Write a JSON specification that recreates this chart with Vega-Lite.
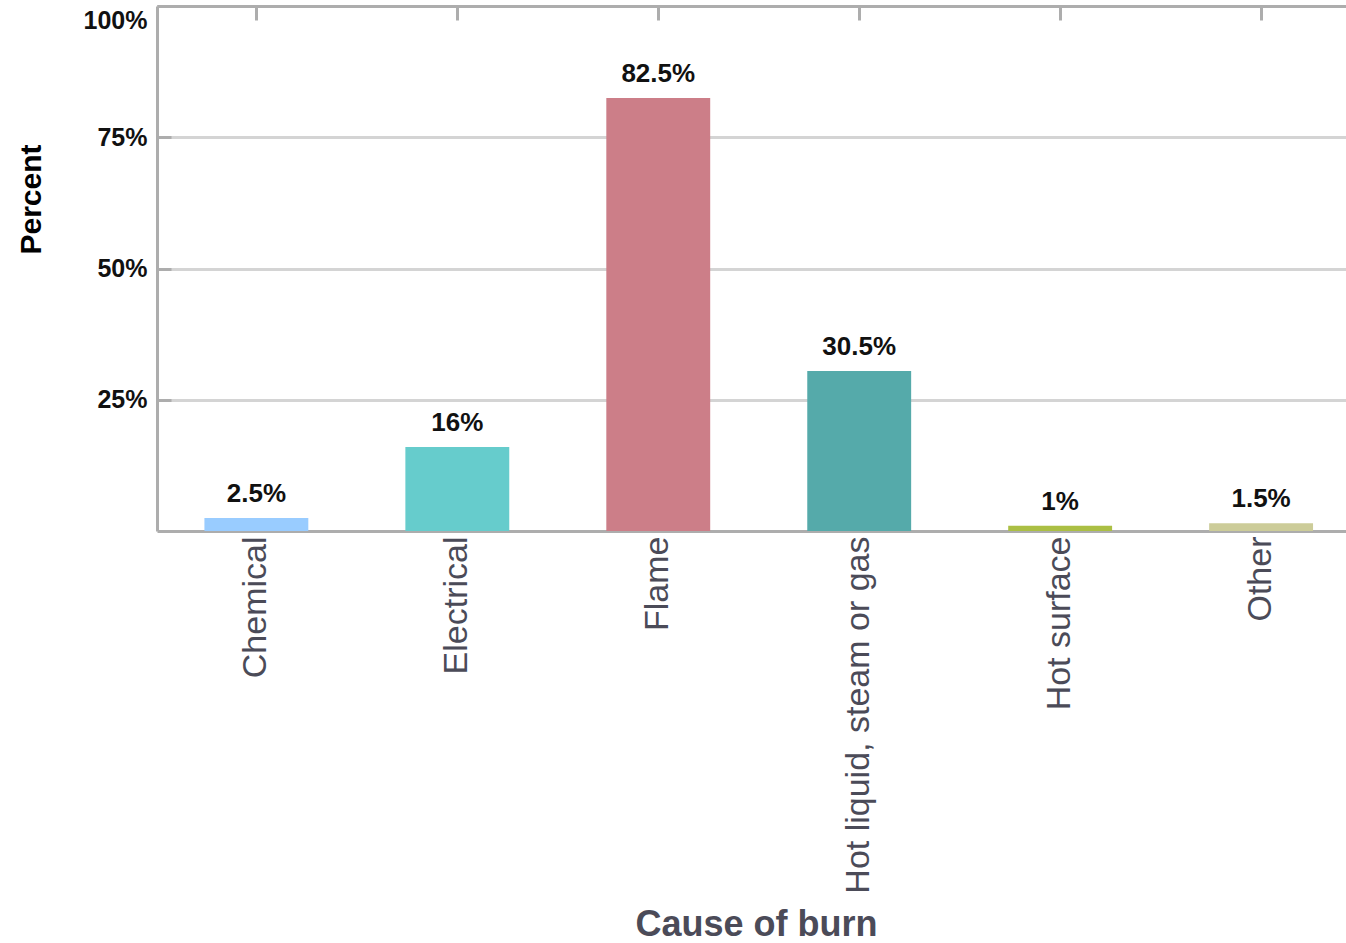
{
  "$schema": "https://vega.github.io/schema/vega-lite/v6.json",
  "width": 1189,
  "height": 525,
  "autosize": {"type": "none"},
  "padding": {"left": 157, "top": 6, "right": 0, "bottom": 412},
  "background": "white",
  "config": {"view": {"stroke": null}},
  "data": {"values": [
    {"cause": "Chemical", "pct": 2.5, "label": "2.5%"},
    {"cause": "Electrical", "pct": 16, "label": "16%"},
    {"cause": "Flame", "pct": 82.5, "label": "82.5%"},
    {"cause": "Hot liquid, steam or gas", "pct": 30.5, "label": "30.5%"},
    {"cause": "Hot surface", "pct": 1, "label": "1%"},
    {"cause": "Other", "pct": 1.5, "label": "1.5%"}
  ]},
  "resolve": {"axis": {"x": "independent"}},
  "layer": [
    {
      "mark": {"type": "bar"},
      "encoding": {
        "x": {"field": "cause", "type": "nominal", "sort": null,
          "scale": {"paddingInner": 0.483, "paddingOuter": 0.2, "align": 0.59},
          "axis": {"orient": "bottom", "title": "Cause of burn", "labelAngle": -90,
            "labelFont": "Liberation Sans", "labelFontSize": 34, "labelColor": "#4b4b58",
            "labelPadding": 5, "labelLimit": 0, "ticks": false, "domainColor": "#adadad", "domainWidth": 3,
            "titleFont": "Liberation Sans", "titleFontSize": 36, "titleFontWeight": "bold",
            "titleColor": "#4b4b58", "titleX": 599, "titleY": 404, "titleAlign": "center",
            "titleBaseline": "alphabetic"}},
        "y": {"field": "pct", "type": "quantitative",
          "scale": {"domain": [0, 100], "nice": false},
          "axis": {"title": "Percent", "values": [25, 50, 75, 100],
            "labelExpr": "datum.value + '%'",
            "labelFont": "Liberation Sans", "labelFontSize": 25, "labelFontWeight": "bold",
            "labelColor": "#111111", "labelPadding": 24, "labelFlush": true, "labelFlushOffset": -2,
            "ticks": true, "tickSize": -14, "tickColor": "#adadad", "tickWidth": 3,
            "grid": true, "gridColor": "#d4d4d4", "gridWidth": 3,
            "domainColor": "#adadad", "domainWidth": 3,
            "titleFont": "Liberation Sans", "titleFontSize": 30, "titleFontWeight": "bold",
            "titleColor": "#000000", "titleAngle": -90, "titleX": -126, "titleY": 193,
            "titleAlign": "center", "titleBaseline": "middle"}},
        "color": {"field": "cause", "type": "nominal", "legend": null,
          "scale": {"domain": ["Chemical", "Electrical", "Flame", "Hot liquid, steam or gas", "Hot surface", "Other"],
            "range": ["#99ccff", "#66cccc", "#cc7e88", "#55aaaa", "#abbf44", "#cccc99"]}}
      }
    },
    {
      "mark": {"type": "text", "font": "Liberation Sans", "fontSize": 26, "fontWeight": "bold",
        "color": "#111111", "baseline": "alphabetic", "dy": -16},
      "encoding": {
        "x": {"field": "cause", "type": "nominal", "sort": null,
          "axis": {"orient": "top", "labels": false, "title": null, "ticks": true,
            "tickSize": -14, "tickColor": "#adadad", "tickWidth": 3,
            "domainColor": "#adadad", "domainWidth": 3, "grid": false}},
        "y": {"field": "pct", "type": "quantitative"},
        "text": {"field": "label"}
      }
    }
  ]
}
